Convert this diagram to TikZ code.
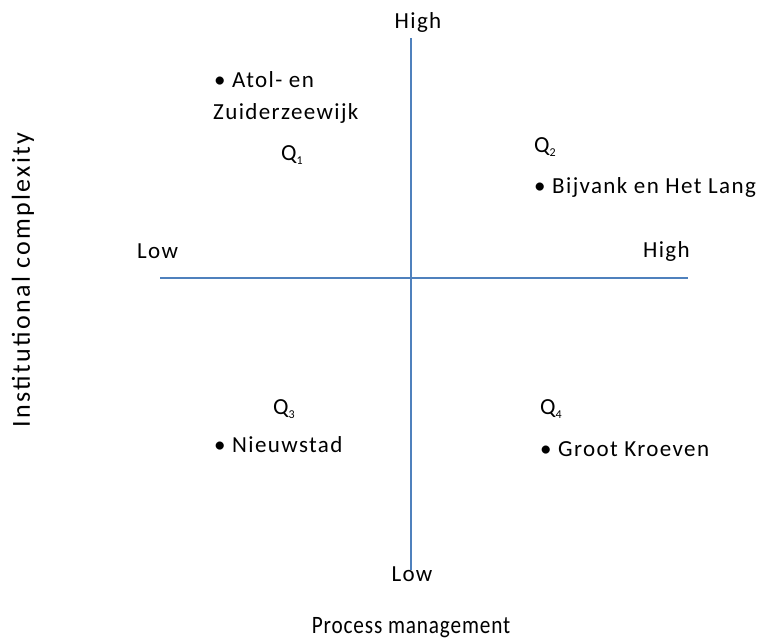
\documentclass[tikz,border=0pt]{standalone}
\usepackage{fontspec}
\setmainfont{Carlito}
\newfontfamily\spacedfont[LetterSpace=6]{Carlito}
\newfontfamily\widefont[LetterSpace=9]{Carlito}
\newfontfamily\titlefont[LetterSpace=4]{Carlito}
\definecolor{axisblue}{HTML}{4F81BD}
\newcommand{\qsub}[1]{Q\raisebox{-0.35ex}{\fontsize{12}{12}\selectfont #1}}
\begin{document}
\begin{tikzpicture}[x=1pt,y=-1pt,
  lbl/.style={inner sep=0pt, font=\spacedfont\fontsize{23}{27}\selectfont},
  axis/.style={draw=axisblue, line width=1.4pt}]
\useasboundingbox (0,0) rectangle (758,643);
% axes
\coordinate (vtop) at (411,38);
\coordinate (vbot) at (411,570);
\coordinate (hl) at (160,278);
\coordinate (hr) at (688,278);
\draw[axis] (vtop) -- (vbot);
\draw[axis] (hl) -- (hr);
% axis end labels
\node[lbl] (ytop) at (418,22) {High};
\node[lbl] (ybot) at (412,574) {Low};
\node[lbl, anchor=west] (xlow) at (137,251) {Low};
\node[lbl, anchor=east] (xhigh) at (690,251) {High};
% quadrant labels
\node[lbl] (q1) at (292,155) {\qsub{1}};
\node[lbl] (q2) at (545,147) {\qsub{2}};
\node[lbl] (q3) at (284,409) {\qsub{3}};
\node[lbl] (q4) at (551,409) {\qsub{4}};
% cases
\node[lbl, anchor=west] (c1a) at (214,80) {\textbullet\ Atol- en};
\node[lbl, anchor=west] (c1b) at (213,113) {Zuiderzeewijk};
\node[lbl, anchor=west] (c2) at (534,187) {\textbullet\ Bijvank en Het Lang};
\node[lbl, anchor=west] (c3) at (214,445) {\textbullet\ Nieuwstad};
\node[lbl, anchor=west] (c4) at (540,449) {\textbullet\ Groot Kroeven};
% axis titles
\node[inner sep=0pt, font=\widefont\fontsize{26}{30}\selectfont, rotate=90] (ytitle) at (23,280) {Institutional complexity};
\node[inner sep=0pt, anchor=base, font=\titlefont\fontsize{25}{30}\selectfont] (xtitle) at (411,633) {\scalebox{0.85}[1]{Process management}};
\end{tikzpicture}
\end{document}
